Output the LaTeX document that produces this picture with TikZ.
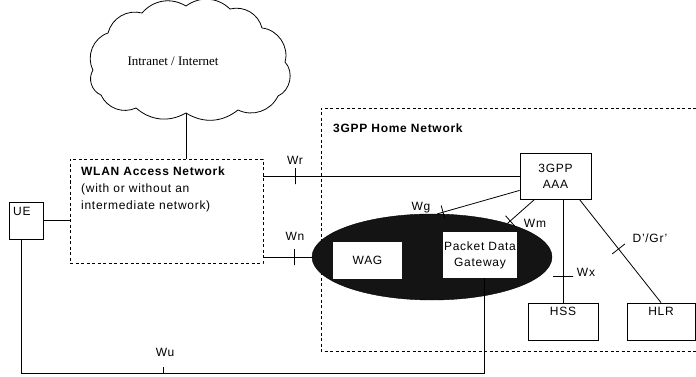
\documentclass[tikz,border=0pt]{standalone}
\usepackage{fontspec}
\setmainfont{Liberation Sans}[LetterSpace=6]
\newfontfamily\cloudfont{Liberation Serif}
\usetikzlibrary{shapes.geometric,calc}
\begin{document}
\begin{tikzpicture}[x=1pt,y=-1pt,
  every node/.style={font=\fontsize{12}{14}\selectfont},
  box/.style={draw,thick,rectangle,inner sep=0pt,align=center},
  dbox/.style={draw,thick,dash pattern=on 3pt off 2.5pt,rectangle,inner sep=0pt},
  wbox/.style={fill=white,rectangle,inner sep=0pt,align=center},
  conn/.style={draw,thick},
  tickmark/.style={draw,thick,rectangle,inner sep=0pt,minimum width=0pt,minimum height=16pt,sloped,pos=#1},
  lab/.style={inner sep=0pt}]
\useasboundingbox (0,0) rectangle (696,377);
% cloud
\draw[thick] (93,70) to[bend left=50] (108,33) to[bend left=45] (142,13) to[bend left=40] (186,6)
  to[bend left=40] (230,9) to[bend left=45] (262,28) to[bend left=50] (285,62) to[bend left=55] (278,96)
  to[bend left=45] (238,110) to[bend left=35] (186,113) to[bend left=35] (136,108) to[bend left=45] (101,95)
  to[bend left=50] (93,70);
\node[lab,font=\cloudfont\fontsize{13}{15}\selectfont] (cloudtext) at (173,61) {Intranet / Internet};
\coordinate (cb) at (186,113);
% WLAN access network
\node[dbox,minimum width=193pt,minimum height=104pt] (wlan) at (166.5,211) {};
\node[lab,anchor=north west,align=left,font=\fontsize{12}{17}\selectfont] (wlantext) at (81,167)
  {\textbf{WLAN Access Network}\\(with or without an\\intermediate network)};
% UE
\node[box,minimum width=34pt,minimum height=37pt] (ue) at (26,220.5) {};
\node[lab,anchor=north west] (uetext) at (13,207) {UE};
% Home network
\draw[thick,dash pattern=on 3pt off 2.5pt] (696,108) -- (321,108) -- (321,351) -- (696,351);
\node[lab,anchor=west] (hometext) at (333,128) {\textbf{3GPP Home Network}};
% AAA
\node[box,minimum width=71pt,minimum height=46pt,font=\fontsize{12}{16}\selectfont] (aaa) at (555.5,176) {3GPP\\AAA};
% gateway ellipse
\node[ellipse,fill=black!92,draw=black,minimum width=240pt,minimum height=86pt,inner sep=0pt] (gw) at (432,257) {};
\node[wbox,minimum width=69pt,minimum height=37pt] (wag) at (367.5,260.5) {WAG};
\node[wbox,minimum width=74pt,minimum height=46pt,font=\fontsize{12}{16}\selectfont] (pdg) at (480,255) {Packet Data\\Gateway};
% HSS, HLR
\node[box,minimum width=70pt,minimum height=37pt,label={[anchor=north,inner sep=4pt]north:HSS}] (hss) at (563,321.5) {};
\node[box,minimum width=68pt,minimum height=37pt,label={[anchor=north,inner sep=4pt]north:HLR}] (hlr) at (661,321.5) {};
% connectors
\draw[conn] (cb) -- (cb |- wlan.north);
\draw[conn] (ue.east) -- (ue.east -| wlan.west);
\draw[conn] (aaa.west -| wlan.east) -- node[tickmark=0.125]{} (aaa.west);
\node[lab] (wr) at (295,160) {Wr};
\draw[conn] (gw.west -| wlan.east) -- node[tickmark=0.65]{} (gw.west);
\node[lab] (wn) at (295,236) {Wn};
\draw[conn] ($(aaa.south west)+(0,-9)$) -- node[tickmark=0.93,minimum height=14pt]{} (gw.83);
\node[lab] (wg) at (421,208) {Wg};
\draw[conn] ($(aaa.south west)+(15,0)$) -- node[tickmark=0.9,minimum height=14pt]{} (gw.24);
\node[lab] (wm) at (535,223) {Wm};
\draw[conn] (hss.north |- aaa.south) -- node[tickmark=0.75,minimum height=20pt]{} (hss.north);
\node[lab] (wx) at (586,272) {Wx};
\draw[conn] ($(aaa.south east)+(-12,0)$) -- node[tickmark=0.48,minimum height=16pt]{} (hlr.north);
\node[lab] (dgr) at (650,238) {D'/Gr'};
\coordinate (pb) at ($(pdg.south)+(4,0)$);
\coordinate (ub) at ($(ue.south)+(-5,0)$);
\draw[conn] (ub) -- (ub |- 0,373) -- (pb |- 0,373) -- (pb);
\coordinate (wut) at (163,373);
\draw[conn] (wut) -- ++(0,-6);
\node[lab] (wu) at (165,352) {Wu};
\end{tikzpicture}
\end{document}
